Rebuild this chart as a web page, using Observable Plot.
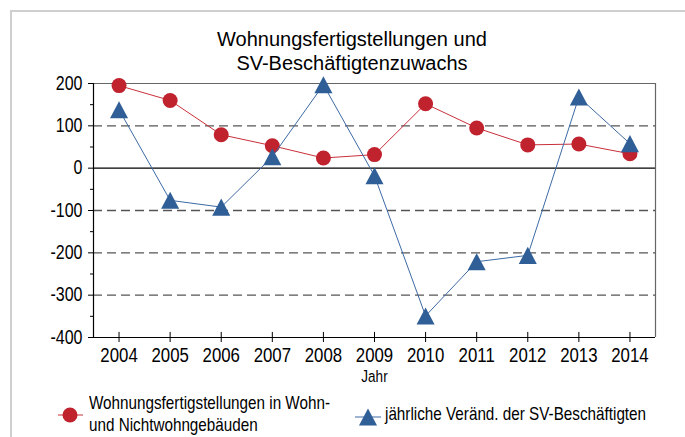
<!DOCTYPE html>
<html>
<head>
<meta charset="utf-8">
<script src="https://cdn.jsdelivr.net/npm/d3@7"></script>
<script src="https://cdn.jsdelivr.net/npm/@observablehq/plot@0.6"></script>
<style>
  body { margin: 0; background: #fff; }
  #wrap { position: relative; width: 685px; height: 437px; overflow: hidden; background: #fff; color: #000;
          font-family: "Liberation Sans", Arial, sans-serif; }
  #frame { position: absolute; left: 10px; top: 10px; width: 720px; height: 480px;
           border-left: 2px solid #cfcfcf; border-top: 2px solid #cfcfcf; }
  #title { position: absolute; left: 0; width: 704px; top: 27px; text-align: center;
           font-size: 20px; line-height: 24px; }
  #chart { position: absolute; left: 0; top: 70px; }
  .leg { position: absolute; font-size: 18.6px; line-height: 22px; white-space: nowrap;
         transform: scaleX(0.82); transform-origin: 0 0; }
  .sym { position: absolute; }
</style>
</head>
<body>
<div id="wrap">
  <div id="frame"></div>
  <div id="title"></div>
  <div id="chart"></div>
  <svg class="sym" id="sym1" width="30" height="20" style="left:56px;top:405px"></svg>
  <div class="leg" id="leg1" style="left:89px;top:392px"></div>
  <svg class="sym" id="sym2" width="30" height="20" style="left:354px;top:407px"></svg>
  <div class="leg" id="leg2" style="left:385px;top:403px"></div>
</div>
<script>
const titleLines = ["Wohnungsfertigstellungen und", "SV-Beschäftigtenzuwachs"];
const years = [2004, 2005, 2006, 2007, 2008, 2009, 2010, 2011, 2012, 2013, 2014];
const fertigstellungen = [195, 160, 79, 53, 24, 32, 152, 95, 55, 57, 34];
const svVeraenderung = [138, -76, -92, 27, 197, -18, -349, -221, -206, 168, 58];
const yTicks = [-400, -300, -200, -100, 0, 100, 200];
const yMinorTicks = [-350, -250, -150, -50, 50, 150];
const dashedGrid = [100, -100, -200, -300];
const xLabel = "Jahr";
const legendLabels = [["Wohnungsfertigstellungen in Wohn-", "und Nichtwohngebäuden"], ["jährliche Veränd. der SV-Beschäftigten"]];

const RED = "#c0222e", RED_LINE = "#c8303a";
const BLUE = "#2f5f96", BLUE_LINE = "#3d6aa5";
const NARROW_SCALE = 0.82;

const rows = years.map((year, i) => ({year, a: fertigstellungen[i], b: svVeraenderung[i]}));

// triangle centred on its bounding box (as in the original chart)
const triangle = {
  draw(ctx, size) {
    const h = Math.sqrt(2 * size * 17 / 18), w = h * 18 / 17;
    ctx.moveTo(0, -h / 2); ctx.lineTo(w / 2, h / 2); ctx.lineTo(-w / 2, h / 2); ctx.closePath();
  }
};

document.getElementById("title").innerHTML = titleLines.join("<br>");

const x0 = years[0] - 0.5, x1 = years[years.length - 1] + 0.5;
const yMin = yTicks[0], yMax = yTicks[yTicks.length - 1];

const chart = Plot.plot({
  width: 685, height: 320,
  marginLeft: 93, marginRight: 30, marginTop: 13, marginBottom: 53,
  style: {fontFamily: '"Liberation Sans", Arial, sans-serif', fontSize: "19px", color: "#000", background: "transparent", overflow: "visible"},
  x: {domain: [x0, x1]},
  y: {domain: [yMin, yMax]},
  marks: [
    Plot.ruleY(dashedGrid, {stroke: "#555", strokeWidth: 1.3, strokeDasharray: "9,5"}),
    Plot.ruleY([0], {stroke: "#000", strokeWidth: 1.2}),
    Plot.ruleY([yMax], {stroke: "#666", strokeWidth: 1.2}),
    Plot.ruleX([x1], {stroke: "#666", strokeWidth: 1.2}),
    Plot.axisY({ticks: yTicks, tickFormat: d => String(d), tickSize: 5, tickPadding: 6, fontSize: 19.5, label: null}),
    Plot.axisY({ticks: yMinorTicks, tickSize: 3, tickFormat: () => "", label: null}),
    Plot.axisX({ticks: years, tickFormat: d => String(d), tickSize: 5, tickPadding: 5, fontSize: 20.5, label: null}),
    Plot.ruleX(years, {x: d => d, y1: yMin, y2: yMin + 12, stroke: "#000"}),
    Plot.ruleX([x0], {stroke: "#000", strokeWidth: 1.2}),
    Plot.ruleY([yMin], {stroke: "#000", strokeWidth: 1.2}),
    Plot.text([xLabel], {frameAnchor: "bottom", dy: 44, fontSize: 16.5}),
    Plot.line(rows, {x: "year", y: "a", stroke: RED_LINE, strokeWidth: 1}),
    Plot.dot(rows, {x: "year", y: "a", r: 7.5, fill: RED, stroke: null}),
    Plot.line(rows, {x: "year", y: "b", stroke: BLUE_LINE, strokeWidth: 1}),
    Plot.dot(rows, {x: "year", y: "b", r: 7, symbol: triangle, fill: BLUE, stroke: null})
  ]
});

// emulate a narrow (Arial Narrow-like) face: squeeze each text horizontally about its anchor point
d3.select(chart).selectAll("text").each(function () {
  const t = this.getAttribute("transform") || "";
  this.setAttribute("transform", `${t} scale(${NARROW_SCALE},1)`.trim());
});
document.getElementById("chart").appendChild(chart);

// legend
const s1 = d3.select("#sym1");
s1.append("line").attr("x1", 2).attr("x2", 27).attr("y1", 10).attr("y2", 10).attr("stroke", RED_LINE);
s1.append("circle").attr("cx", 14).attr("cy", 10).attr("r", 7.5).attr("fill", RED);
const s2 = d3.select("#sym2");
s2.append("line").attr("x1", 1).attr("x2", 27).attr("y1", 10).attr("y2", 10).attr("stroke", BLUE_LINE);
s2.append("path").attr("transform", "translate(14,10)").attr("d", d3.symbol(triangle, Math.PI * 49)()).attr("fill", BLUE);
document.getElementById("leg1").innerHTML = legendLabels[0].join("<br>");
document.getElementById("leg2").innerHTML = legendLabels[1].join("<br>");
</script>
</body>
</html>
